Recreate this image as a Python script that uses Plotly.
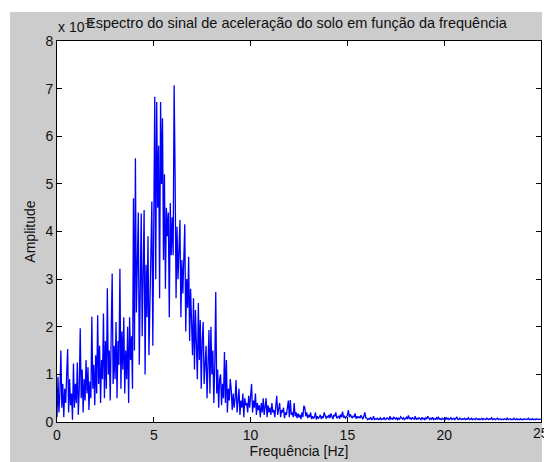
import numpy as np
import plotly.graph_objects as go

# ---- data (amplitude in units of 1e-3) ----
freq_step_hz = 0.05
amplitude = [
    0.1, 0.95, 0.2, 0.6, 1.5, 0.3, 0.8, 0.1, 0.7, 0.4, 1.0, 1.53, 0.2, 0.9, 0.35, 0.6, 0.05, 1.23, 0.3, 0.8,
    0.4, 1.25, 0.15, 0.7, 1.97, 0.5, 1.1, 0.2, 0.9, 0.45, 1.3, 0.6, 1.15, 0.25, 0.85, 0.5, 2.21, 0.7, 1.2, 0.35,
    1.4, 0.6, 2.24, 0.8, 1.6, 0.4, 1.3, 0.9, 2.28, 0.5, 1.7, 0.7, 2.81, 1.0, 1.5, 0.45, 1.9, 3.12, 0.8, 1.6,
    0.9, 2.1, 0.5, 1.7, 1.2, 3.22, 0.7, 1.9, 1.1, 2.2, 0.6, 1.5, 0.9, 2.0, 0.4, 2.2, 1.3, 1.8, 0.7, 4.7,
    1.5, 5.54, 2.3, 3.5, 4.4, 1.2, 3.0, 4.38, 1.8, 2.9, 4.45, 1.0, 3.3, 2.2, 3.9, 1.4, 2.7, 3.6, 4.63, 1.6,
    5.22, 6.83, 3.0, 6.72, 4.5, 5.8, 2.6, 6.72, 5.0, 6.38, 3.4, 5.2, 2.8, 4.5, 3.9, 4.4, 2.2, 4.6, 3.5, 4.3,
    3.5, 7.07, 5.2, 2.6, 4.1, 3.0, 3.6, 4.24, 2.2, 3.4, 2.7, 3.3, 4.15, 1.9, 3.0, 2.4, 3.47, 1.7, 2.8, 2.1,
    1.4, 2.6, 1.1, 2.35, 1.8, 0.9, 2.5, 1.3, 2.14, 0.7, 1.7, 2.1, 0.8, 1.2, 1.6, 0.5, 1.4, 1.93, 0.6, 2.0,
    1.0, 1.5, 0.4, 1.2, 2.73, 0.6, 1.1, 0.3, 0.9, 1.0, 0.35, 0.8, 0.5, 1.47, 0.4, 1.3, 0.2, 0.7, 0.45, 0.9,
    0.67, 0.25, 0.6, 0.3, 0.5, 0.88, 0.2, 0.55, 0.7, 0.15, 0.45, 0.3, 0.6, 0.1, 0.5, 0.35, 0.4, 0.2, 0.55, 0.3,
    0.5, 0.8, 0.2, 0.45, 0.3, 0.6, 0.15, 0.4, 0.25, 0.35, 0.1, 0.4, 0.2, 0.5, 0.15, 0.3, 0.5, 0.1, 0.35, 0.2,
    0.3, 0.15, 0.4, 0.2, 0.25, 0.1, 0.35, 0.55, 0.15, 0.3, 0.4, 0.1, 0.25, 0.2, 0.3, 0.08, 0.2, 0.15, 0.3, 0.45,
    0.1, 0.46, 0.15, 0.2, 0.1, 0.4, 0.12, 0.2, 0.08, 0.18, 0.1, 0.15, 0.06, 0.2, 0.1, 0.34, 0.3, 0.12, 0.2, 0.08,
    0.15, 0.1, 0.2, 0.06, 0.12, 0.08, 0.1, 0.2, 0.05, 0.12, 0.08, 0.1, 0.15, 0.06, 0.12, 0.08, 0.2, 0.1, 0.07, 0.12,
    0.1, 0.15, 0.08, 0.18, 0.1, 0.06, 0.15, 0.12, 0.2, 0.08, 0.1, 0.13, 0.07, 0.16, 0.1, 0.22, 0.09, 0.12, 0.08, 0.1,
    0.14, 0.25, 0.1, 0.16, 0.12, 0.08, 0.13, 0.1, 0.18, 0.07, 0.12, 0.09, 0.11, 0.08, 0.14, 0.1, 0.06, 0.12, 0.2, 0.09,
    0.08, 0.05, 0.07, 0.06, 0.1, 0.05, 0.06, 0.12, 0.05, 0.07, 0.06, 0.08, 0.05, 0.06, 0.09, 0.05, 0.07, 0.06, 0.1, 0.05,
    0.06, 0.09, 0.07, 0.05, 0.12, 0.06, 0.08, 0.05, 0.1, 0.07, 0.06, 0.09, 0.05, 0.08, 0.06, 0.11, 0.07, 0.06, 0.09, 0.05,
    0.07, 0.1, 0.06, 0.14, 0.07, 0.08, 0.05, 0.1, 0.07, 0.06, 0.12, 0.05, 0.08, 0.06, 0.09, 0.07, 0.05, 0.1, 0.06, 0.08,
    0.05, 0.09, 0.06, 0.12, 0.07, 0.05, 0.08, 0.06, 0.1, 0.05, 0.07, 0.06, 0.09, 0.05, 0.11, 0.06, 0.07, 0.05, 0.08, 0.06,
    0.07, 0.05, 0.1, 0.06, 0.08, 0.05, 0.07, 0.09, 0.05, 0.06, 0.08, 0.05, 0.07, 0.1, 0.06, 0.05, 0.08, 0.06, 0.05, 0.07,
    0.06, 0.08, 0.05, 0.07, 0.06, 0.09, 0.05, 0.06, 0.08, 0.05, 0.07, 0.06, 0.05, 0.08, 0.06, 0.05, 0.07, 0.05, 0.06, 0.08,
    0.05, 0.07, 0.06, 0.05, 0.08, 0.06, 0.05, 0.07, 0.06, 0.09, 0.05, 0.06, 0.07, 0.05, 0.06, 0.08, 0.05, 0.06, 0.07, 0.05,
    0.06, 0.05, 0.07, 0.06, 0.05, 0.08, 0.05, 0.06, 0.07, 0.05, 0.06, 0.05, 0.08, 0.06, 0.05, 0.07, 0.05, 0.06, 0.05, 0.07,
    0.05, 0.06, 0.05, 0.07, 0.06, 0.05, 0.06, 0.08, 0.05, 0.06, 0.05, 0.07, 0.05, 0.06, 0.05, 0.07, 0.06, 0.05, 0.06, 0.05,
    0.06,
]
frequency = np.arange(len(amplitude)) * freq_step_hz

x_ticks = [0, 5, 10, 15, 20, 25]
y_ticks = [0, 1, 2, 3, 4, 5, 6, 7, 8]

title_text = "Espectro do sinal de aceleração do solo em função da frequência"
x_label = "Frequência [Hz]"
y_label = "Amplitude"

FONT = "Liberation Sans, Arial, sans-serif"
TXT = "#111111"
W, H = 544, 462
L, R, T, B = 57, 3, 41, 40
pw, ph = W - L - R, H - T - B

def px_x(p):
    return (p - L) / pw

def px_y(p):
    return (H - B - p) / ph

fig = go.Figure()
fig.add_trace(go.Scatter(
    x=frequency, y=amplitude, mode="lines",
    line=dict(color="#0000ff", width=1.3),
    hoverinfo="skip", showlegend=False,
))

axis_common = dict(
    showline=True, linecolor="black", linewidth=1, mirror="ticks",
    ticks="inside", ticklen=5, tickcolor="black", tickwidth=1,
    showgrid=False, zeroline=False,
    tickfont=dict(family=FONT, size=14, color=TXT),
)

# the last x tick label (25) sits on the figure's right edge; drawn as an annotation below
fig.update_xaxes(range=[0, 25], tickvals=x_ticks,
                 ticktext=[str(v) if v != x_ticks[-1] else "" for v in x_ticks],
                 title=dict(text=x_label, font=dict(family=FONT, size=14, color=TXT), standoff=4),
                 **axis_common)
fig.update_yaxes(range=[0, 8], tickvals=y_ticks, ticktext=[str(v) for v in y_ticks],
                 title=dict(text=y_label, font=dict(family=FONT, size=14, color=TXT), standoff=6),
                 **axis_common)

shapes = [
    dict(type="rect", xref="paper", yref="paper", layer="below",
         x0=px_x(-5), x1=px_x(10), y0=px_y(470), y1=px_y(-5),
         fillcolor="white", line=dict(width=0)),
    dict(type="rect", xref="paper", yref="paper", layer="below",
         x0=px_x(-5), x1=px_x(550), y0=px_y(12), y1=px_y(-5),
         fillcolor="white", line=dict(width=0)),
    dict(type="rect", xref="paper", yref="paper", layer="below",
         x0=px_x(542), x1=px_x(550), y0=px_y(470), y1=px_y(-5),
         fillcolor="white", line=dict(width=0)),
]

annotations = [
    dict(text=title_text, xref="paper", yref="paper", x=px_x(297), y=px_y(23),
         xanchor="center", yanchor="middle", showarrow=False,
         font=dict(family=FONT, size=14.5, color=TXT)),
    dict(text="x 10<sup>-3</sup>", xref="paper", yref="paper", x=px_x(56), y=px_y(26),
         xanchor="left", yanchor="middle", showarrow=False,
         font=dict(family=FONT, size=14, color=TXT)),
    dict(text=str(x_ticks[-1]), xref="x", yref="paper", x=x_ticks[-1], y=px_y(433),
         xanchor="center", yanchor="middle", showarrow=False,
         font=dict(family=FONT, size=14, color=TXT)),
]

fig.update_layout(
    width=W, height=H,
    margin=dict(l=L, r=R, t=T, b=B),
    paper_bgcolor="#cccccc", plot_bgcolor="white",
    shapes=shapes, annotations=annotations,
    font=dict(family=FONT),
)

fig.write_html("out.html")
